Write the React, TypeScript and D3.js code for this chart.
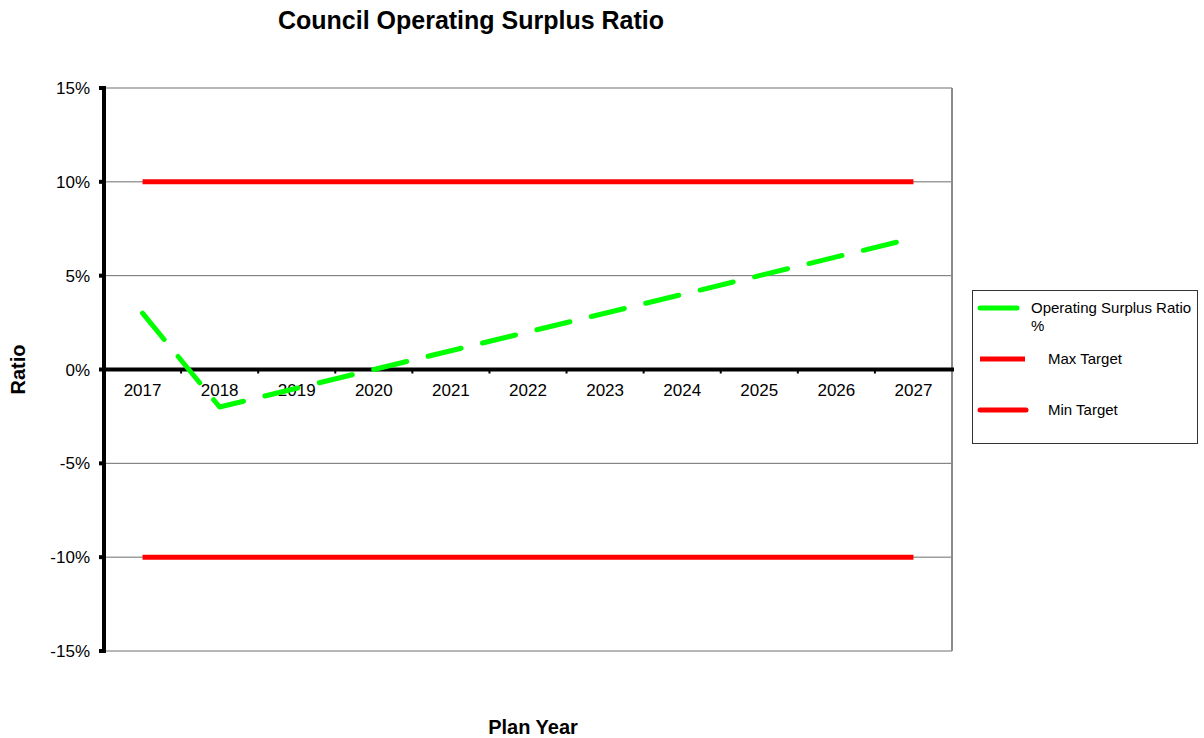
import React from "react";
import * as d3 from "d3";

const years = ["2017", "2018", "2019", "2020", "2021", "2022", "2023", "2024", "2025", "2026", "2027"];
const surplusRatio = [3, -2, -1, 0, 1, 2, 3, 4, 5, 6, 7];
const maxTarget = [10, 10, 10, 10, 10, 10, 10, 10, 10, 10, 10];
const minTarget = [-10, -10, -10, -10, -10, -10, -10, -10, -10, -10, -10];
const yTicks = [-15, -10, -5, 0, 5, 10, 15];

const W = 1204;
const H = 738;
const plot = { left: 104, right: 952, top: 88, bottom: 651 };
const FONT = "'Liberation Sans', Arial, sans-serif";

export default function App() {
  const x = d3.scaleBand<string>().domain(years).range([plot.left, plot.right]);
  const y = d3.scaleLinear().domain([-15, 15]).range([plot.bottom, plot.top]);
  const cx = (d: string) => (x(d) as number) + x.bandwidth() / 2;

  const line = d3
    .line<number>()
    .x((_, i) => cx(years[i]))
    .y((v) => y(v));

  const y0 = y(0);

  return (
    <div style={{ position: "absolute", left: 0, top: 0 }}>
      <svg width={W} height={H} style={{ display: "block", background: "#fff" }}>
        {/* Title */}
        <text x={471} y={29} textAnchor="middle" fontFamily={FONT} fontWeight="bold" fontSize={25} fill="#000">
          Council Operating Surplus Ratio
        </text>

        {/* Gridlines */}
        {yTicks
          .filter((t) => t !== 0)
          .map((t) => (
            <line key={t} x1={plot.left} x2={plot.right} y1={y(t)} y2={y(t)} stroke="#6e6e6e" strokeWidth={1} />
          ))}
        {/* Right border */}
        <line x1={plot.right} x2={plot.right} y1={plot.top} y2={plot.bottom} stroke="#8c8c8c" strokeWidth={2} />

        {/* Y tick marks and labels */}
        {yTicks.map((t) => (
          <g key={t}>
            <line x1={plot.left - 5} x2={plot.left} y1={y(t)} y2={y(t)} stroke="#000" strokeWidth={4} />
            <text x={90} y={y(t) + 6} textAnchor="end" fontFamily={FONT} fontSize={17} fill="#000">
              {`${t}%`}
            </text>
          </g>
        ))}

        {/* Category boundary ticks on the zero axis */}
        {years.slice(1).map((yr) => (
          <line key={yr} x1={x(yr) as number} x2={x(yr) as number} y1={y0} y2={y0 + 4} stroke="#000" strokeWidth={2} />
        ))}

        {/* Category labels */}
        {years.map((yr) => (
          <text key={yr} x={cx(yr)} y={y0 + 26} textAnchor="middle" fontFamily={FONT} fontSize={17} fill="#000">
            {yr}
          </text>
        ))}

        {/* Target lines */}
        <path d={line(maxTarget) as string} fill="none" stroke="#ff0000" strokeWidth={5} />
        <path d={line(minTarget) as string} fill="none" stroke="#ff0000" strokeWidth={5} />

        {/* Zero axis */}
        <line x1={plot.left} x2={plot.right + 2} y1={y0} y2={y0} stroke="#000" strokeWidth={4} />
        {/* Left axis */}
        <line x1={plot.left} x2={plot.left} y1={plot.top - 2} y2={plot.bottom + 2} stroke="#000" strokeWidth={4} />

        {/* Surplus ratio series */}
        <path
          d={line(surplusRatio) as string}
          fill="none"
          stroke="#00ff00"
          strokeWidth={5}
          strokeLinecap="round"
          strokeLinejoin="round"
          strokeDasharray="34 22"
        />

        {/* Axis titles */}
        <text
          transform={`translate(25, ${y0}) rotate(-90)`}
          textAnchor="middle"
          fontFamily={FONT}
          fontWeight="bold"
          fontSize={20}
          fill="#000"
        >
          Ratio
        </text>
        <text x={533} y={734} textAnchor="middle" fontFamily={FONT} fontWeight="bold" fontSize={20} fill="#000">
          Plan Year
        </text>

        {/* Legend */}
        <rect x={972.5} y={290.5} width={225} height={153} fill="#fff" stroke="#333" strokeWidth={1} />
        <line x1={980} x2={1017} y1={308} y2={308} stroke="#00ff00" strokeWidth={5} strokeLinecap="round" />
        <text x={1031} y={313} fontFamily={FONT} fontSize={15} fill="#000">
          Operating Surplus Ratio
        </text>
        <text x={1031} y={331} fontFamily={FONT} fontSize={15} fill="#000">
          %
        </text>
        <line x1={980} x2={1025} y1={359} y2={359} stroke="#ff0000" strokeWidth={5} />
        <text x={1048} y={364} fontFamily={FONT} fontSize={15} fill="#000">
          Max Target
        </text>
        <line x1={980} x2={1026} y1={410} y2={410} stroke="#ff0000" strokeWidth={5} strokeLinecap="round" />
        <text x={1048} y={415} fontFamily={FONT} fontSize={15} fill="#000">
          Min Target
        </text>
      </svg>
    </div>
  );
}
